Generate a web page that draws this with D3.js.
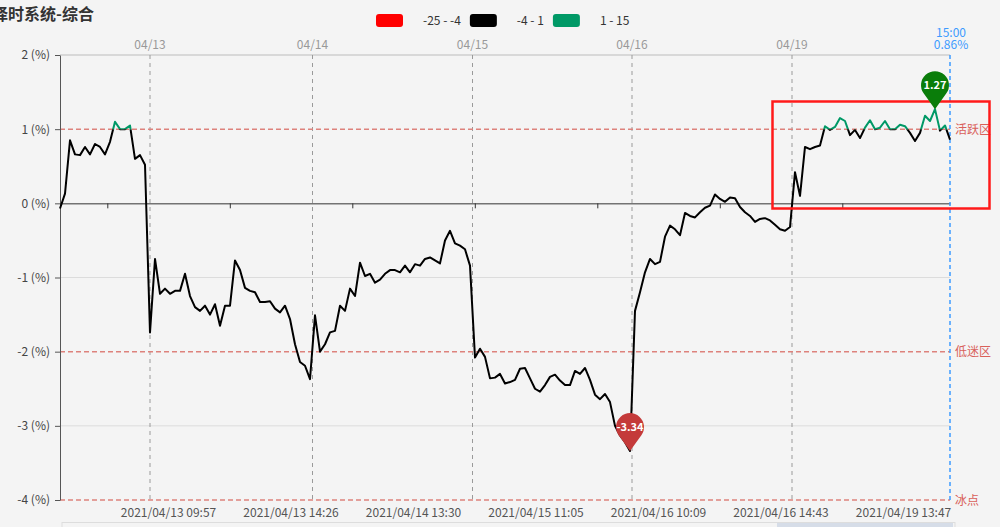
<!DOCTYPE html>
<html><head><meta charset="utf-8">
<script src="https://cdn.jsdelivr.net/npm/d3@7/dist/d3.min.js"></script>
<style>
html,body{margin:0;padding:0;background:#f4f4f4;overflow:hidden}
svg{display:block;font-family:"Noto Sans CJK SC","Noto Sans",sans-serif}
</style></head><body>
<svg id="c" width="1000" height="527"></svg>
<script>
// ---- data (percent values, one point per 7.5 trading minutes) ----
const values = [
 -0.07, 0.13, 0.85, 0.66, 0.65, 0.76, 0.66, 0.80, 0.76, 0.66,
  0.83, 1.10, 1.00, 1.00, 1.05, 0.60, 0.65, 0.52, -1.74, -0.75,
 -1.22, -1.15, -1.22, -1.18, -1.18, -0.95, -1.25, -1.40, -1.45, -1.38,
 -1.50, -1.36, -1.65, -1.38, -1.38, -0.77, -0.90, -1.14, -1.18, -1.20,
 -1.33, -1.33, -1.32, -1.42, -1.47, -1.38, -1.56, -1.90, -2.14, -2.19,
 -2.37, -1.51, -2.00, -1.90, -1.74, -1.72, -1.38, -1.45, -1.15, -1.25,
 -0.80, -0.98, -0.95, -1.07, -1.03, -0.95, -0.90, -0.90, -0.93, -0.84,
 -0.93, -0.82, -0.84, -0.75, -0.73, -0.77, -0.81, -0.50, -0.37, -0.54,
 -0.57, -0.62, -0.84, -2.08, -1.96, -2.07, -2.36, -2.35, -2.30, -2.43,
 -2.41, -2.38, -2.23, -2.22, -2.36, -2.50, -2.54, -2.45, -2.34, -2.31,
 -2.39, -2.45, -2.45, -2.26, -2.30, -2.22, -2.38, -2.58, -2.64, -2.57,
 -2.68, -3.00, -3.13, -3.22, -3.34, -1.45, -1.20, -0.93, -0.75, -0.82,
 -0.79, -0.45, -0.30, -0.35, -0.43, -0.13, -0.17, -0.19, -0.12, -0.06,
 -0.03, 0.12, 0.06, 0.02, 0.08, 0.07, -0.05, -0.12, -0.17, -0.25,
 -0.21, -0.20, -0.23, -0.29, -0.35, -0.37, -0.32, 0.42, 0.10, 0.76,
  0.73, 0.76, 0.78, 1.04, 0.99, 1.03, 1.15, 1.11, 0.92, 0.99,
  0.88, 1.02, 1.12, 1.00, 1.02, 1.11, 1.00, 1.00, 1.06, 1.04,
  0.95, 0.84, 0.95, 1.18, 1.11, 1.27, 0.98, 1.05, 0.86
];
const dayLabels = ["04/13", "04/14", "04/15", "04/16", "04/19"];
const dayStartIndex = [18, 50.5, 82.5, 114.4, 146.4];
const timeLabels = ["2021/04/13 09:57", "2021/04/13 14:26", "2021/04/14 13:30",
  "2021/04/15 11:05", "2021/04/16 10:09", "2021/04/16 14:43", "2021/04/19 13:47"];
const yTicks = [2, 1, 0, -1, -2, -3, -4];
const zoneValues = [1, -2, -4];
const zoneLabels = ["活跃区", "低迷区", "冰点"];
const legendLabels = ["-25 - -4", "-4 - 1", "1 - 15"];
const pieceBounds = [[-25, -4], [-4, 1], [1, 15]];
const lastTime = "15:00";

// ---- styles ----
const pieceColors = ["#ff0000", "#000000", "#009966"];
const W = 1000, H = 527;
const L = 60, R = 950, T = 55, B = 500;

const svg = d3.select("#c");
svg.append("rect").attr("width", W).attr("height", H).attr("fill", "#f4f4f4");

const x = d3.scaleLinear().domain([0, values.length - 1]).range([L, R]);
const y = d3.scaleLinear().domain([-4, 2]).range([B, T]);

// title
svg.append("text").attr("x", -8).attr("y", 20)
  .attr("font-size", 16).attr("font-weight", "bold").attr("fill", "#333")
  .text("择时系统-综合");

// legend
{
  const g = svg.append("g").attr("font-size", 12).attr("fill", "#333");
  let cx = 376;
  legendLabels.forEach((lab, i) => {
    g.append("rect").attr("x", cx).attr("y", 14).attr("width", 27).attr("height", 13)
      .attr("rx", 3).attr("fill", pieceColors[i]);
    const t = g.append("text").attr("x", cx + 47).attr("y", 24.5).text(lab);
    const w = t.node().getComputedTextLength();
    cx = cx + 47 + w + 9;
  });
}

// horizontal grid lines
const gridG = svg.append("g");
yTicks.filter(v => !zoneValues.includes(v) && v !== 0).forEach(v => {
  gridG.append("line").attr("x1", L).attr("x2", R).attr("y1", y(v)).attr("y2", y(v))
    .attr("stroke", v === 2 ? "#d8d8d8" : "#dcdcdc").attr("stroke-width", v === 2 ? 2 : 1);
});

// day divider lines + top labels
dayStartIndex.forEach((di, i) => {
  svg.append("line").attr("x1", x(di)).attr("x2", x(di)).attr("y1", T).attr("y2", B)
    .attr("stroke", "#9a9a9a").attr("stroke-dasharray", "4,4");
  svg.append("text").attr("x", x(di)).attr("y", 49).attr("text-anchor", "middle")
    .attr("font-size", 12).attr("fill", "#999").text(dayLabels[i]);
});

// zone lines (red dashed)
zoneValues.forEach((v, i) => {
  svg.append("line").attr("x1", L).attr("x2", R).attr("y1", y(v)).attr("y2", y(v))
    .attr("stroke", "#dd827c").attr("stroke-width", 1.5).attr("stroke-dasharray", "5,3");
  svg.append("text").attr("x", 955).attr("y", y(v) + 4.5).attr("font-size", 12)
    .attr("fill", "#d9605a").text(zoneLabels[i]);
});

// y axis
const yAxis = svg.append("g").attr("transform", `translate(${L},0)`)
  .call(d3.axisLeft(y).tickValues(yTicks).tickFormat(d => `${d} (%)`).tickSize(5).tickSizeOuter(0));
yAxis.select(".domain").attr("stroke", "#555");
yAxis.selectAll(".tick line").attr("stroke", "#555");
yAxis.selectAll(".tick text").attr("font-size", 12).attr("fill", "#444")
  .attr("font-family", '"Noto Sans CJK SC","Noto Sans",sans-serif').attr("dx", "-2");

// zero axis with ticks
const tickStep = 24.5, tickStart = 9.46;
const tickIdx = d3.range(7).map(k => tickStart + tickStep * k);
const xAxis = svg.append("g").attr("transform", `translate(0,${y(0)})`)
  .call(d3.axisBottom(x).tickValues(tickIdx).tickFormat("").tickSize(5).tickSizeOuter(0));
xAxis.select(".domain").attr("stroke", "#333");
xAxis.selectAll(".tick line").attr("stroke", "#333");

// bottom time labels
timeLabels.forEach((t, k) => {
  svg.append("text").attr("x", x(tickStart + tickStep * (k + 0.5))).attr("y", 517)
    .attr("text-anchor", "middle").attr("font-size", 12).attr("fill", "#555").text(t);
});

// slider box at bottom
svg.append("rect").attr("x", 62).attr("y", 522.5).attr("width", 893).attr("height", 30)
  .attr("fill", "none").attr("stroke", "#ddd");
svg.append("rect").attr("x", 777).attr("y", 523).attr("width", 176).attr("height", 30)
  .attr("fill", "#d6dde8");

// last-point blue dashed line
svg.append("line").attr("x1", R).attr("x2", R).attr("y1", T).attr("y2", B + 3)
  .attr("stroke", "#3d9bff").attr("stroke-width", 1.5).attr("stroke-dasharray", "4,3");
const lastVal = values[values.length - 1];
svg.append("text").attr("x", R + 1).attr("y", 37).attr("text-anchor", "middle")
  .attr("font-size", 12).attr("fill", "#3d9bff").text(lastTime);
svg.append("text").attr("x", R + 1).attr("y", 49).attr("text-anchor", "middle")
  .attr("font-size", 12).attr("fill", "#3d9bff").text(lastVal.toFixed(2) + "%");

// line, coloured by visual pieces via clipping
const defs = svg.append("defs");
const line = d3.line().x((d, i) => x(i)).y(d => y(d));
pieceBounds.forEach((pb, i) => {
  const top = y(Math.min(pb[1], 2.5)), bot = y(Math.max(pb[0], -4.5));
  defs.append("clipPath").attr("id", "clip" + i).append("rect")
    .attr("x", 0).attr("width", W).attr("y", top).attr("height", bot - top);
  svg.append("path").datum(values).attr("d", line).attr("fill", "none")
    .attr("stroke", pieceColors[i]).attr("stroke-width", 2).attr("stroke-linejoin", "round")
    .attr("clip-path", `url(#clip${i})`);
});

// red annotation box
svg.append("rect").attr("x", 772.5).attr("y", 101.5).attr("width", 217).attr("height", 107)
  .attr("fill", "none").attr("stroke", "#ff1a1a").attr("stroke-width", 2.5);

// pin markers
function pin(i, color) {
  const tx = x(i), ty = y(values[i]);
  const r = 14, d = 24, cy = ty - d;
  const c = r / d, s = Math.sqrt(1 - c * c);
  const p = `M${tx},${ty} L${tx + r * s},${cy + r * c} A${r},${r} 0 1 0 ${tx - r * s},${cy + r * c} Z`;
  svg.append("path").attr("d", p).attr("fill", color);
  svg.append("text").attr("x", tx).attr("y", cy + 4).attr("text-anchor", "middle")
    .attr("font-size", 11).attr("font-weight", "bold").attr("fill", "#fff")
    .text(values[i].toFixed(2));
}
pin(d3.maxIndex(values), "#0a7d0a");
pin(d3.minIndex(values), "#c43a3a");
</script>
</body></html>
